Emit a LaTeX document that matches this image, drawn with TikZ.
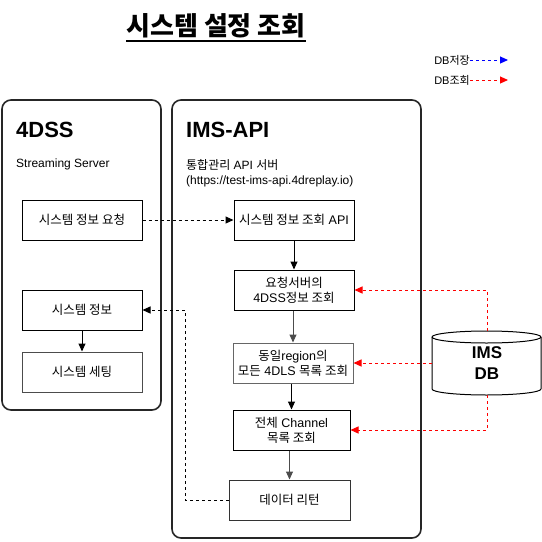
\documentclass[tikz,border=0pt]{standalone}
\usepackage{fontspec}
\setmainfont{Liberation Sans}
\newfontfamily\kr{Noto Sans CJK KR}
\usetikzlibrary{arrows.meta}
\begin{document}
\begin{tikzpicture}[x=1pt,y=-1pt,
  tip/.style={-{Triangle[length=8pt,width=7pt]}},
  dsh/.style={dash pattern=on 3pt off 3pt},
  container/.style={draw=black!85, line width=1.6pt, rounded corners=9pt},
  stepbox/.style={draw, line width=1pt, minimum width=120pt, minimum height=40pt, align=center, font=\fontsize{12.5}{15}\selectfont, inner sep=1pt},
  ttl/.style={font=\bfseries\fontsize{22}{26}\selectfont, anchor=west, inner sep=0pt},
  sub/.style={font=\fontsize{12}{15}\selectfont, anchor=north west, align=left, inner sep=0pt},
  leg/.style={font=\fontsize{11}{13}\selectfont, inner sep=0pt, anchor=east}
]
\useasboundingbox (0,0) rectangle (542,542);

% title
\node[font=\kr\bfseries\fontsize{26}{30}\selectfont, inner sep=0pt] (title) at (216,26) {시스템 설정 조회};
\draw[line width=1.6pt] (title.south west |- 0,41) -- (title.south east |- 0,41);

% legend
\node[leg] (l1) at (470,60) {DB{\kr 저장}};
\coordinate (l1e) at (508,60);
\draw[blue, dsh, line width=1pt, tip] (l1.east) -- (l1e);
\node[leg] (l2) at (470,80) {DB{\kr 조회}};
\coordinate (l2e) at (508,80);
\draw[red, dsh, line width=1pt, tip] (l2.east) -- (l2e);

% containers
\node[container, minimum width=159pt, minimum height=310pt] (c1) at (81.5,255) {};
\node[container, minimum width=249pt, minimum height=438pt] (c2) at (296.5,319) {};

\node[ttl] (t1) at (16,130) {4DSS};
\node[sub] (st1) at (16,159) {Streaming Server};
\node[ttl] (t2) at (186,130) {IMS-API};
\node[sub] (st2) at (186,159) {{\kr 통합관리} API {\kr 서버}\\(https://test-ims-api.4dreplay.io)};

% 4DSS boxes
\node[stepbox] (s1) at (82,220) {\kr 시스템 정보 요청};
\node[stepbox] (s2) at (82,310) {\kr 시스템 정보};
\node[stepbox, draw=black!70] (s3) at (82,372) {\kr 시스템 세팅};

% IMS-API boxes
\node[stepbox] (b1) at (294,220) {{\kr 시스템 정보 조회} API};
\node[stepbox] (b2) at (294,290) {{\kr 요청서버의}\\4DSS{\kr 정보 조회}};
\node[stepbox, draw=black!60] (b3) at (293,363) {{\kr 동일}region{\kr 의}\\{\kr 모든} 4DLS {\kr 목록 조회}};
\node[stepbox, minimum width=117pt] (b4) at (291.5,430) {{\kr 전체} Channel\\{\kr 목록 조회}};
\node[stepbox, minimum width=121pt, draw=black!80] (b5) at (289.5,500) {\kr 데이터 리턴};

% DB cylinder
\node[minimum width=110pt, minimum height=64pt, inner sep=0pt, align=center,
      font=\bfseries\fontsize{17}{21}\selectfont] (db) at (487,363) {IMS\\DB};
\draw[line width=1pt] (432,337) -- (432,389) arc[start angle=180, end angle=0, x radius=54.5, y radius=6] -- (541,337);
\draw[line width=1pt] (486.5,337) ellipse[x radius=54.5, y radius=6];

% flows
\draw[line width=1pt, tip] (s2) -- (s3);
\draw[line width=1pt, tip] (b1) -- (b2);
\draw[line width=1pt, black!70, tip] (b2.south -| b3.north) -- (b3.north);
\draw[line width=1pt, tip] (b3.south -| b4.north) -- (b4.north);
\draw[line width=1pt, black!70, tip] (b4.south -| b5.north) -- (b5.north);

\draw[line width=1pt, dsh, tip] (s1.east) -- (b1.west);
\coordinate (ret) at (185,310);
\draw[line width=1pt, dsh, tip] (b5.west) -| (ret) -- (s2.east);

\draw[red, line width=1pt, dsh, tip] (db.north) |- (b2.east);
\draw[red, line width=1pt, dsh, tip] (db.west) -- (b3.east);
\draw[red, line width=1pt, dsh, tip] (db.south) |- (b4.east);
\end{tikzpicture}
\end{document}
